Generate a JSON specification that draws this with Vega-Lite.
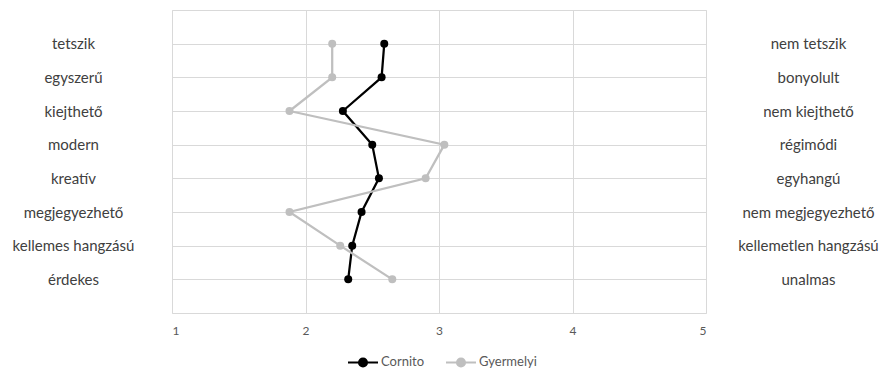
{
  "$schema": "https://vega.github.io/schema/vega-lite/v6.json",
  "width": 534,
  "height": 303,
  "autosize": {"type": "none"},
  "padding": {"left": 172, "top": 10, "right": 183, "bottom": 60},
  "background": "white",
  "data": {
    "values": [
      {"left": "tetszik", "right": "nem tetszik", "brand": "Cornito", "value": 2.59},
      {"left": "egyszerű", "right": "bonyolult", "brand": "Cornito", "value": 2.57},
      {"left": "kiejthető", "right": "nem kiejthető", "brand": "Cornito", "value": 2.28},
      {"left": "modern", "right": "régimódi", "brand": "Cornito", "value": 2.5},
      {"left": "kreatív", "right": "egyhangú", "brand": "Cornito", "value": 2.55},
      {"left": "megjegyezhető", "right": "nem megjegyezhető", "brand": "Cornito", "value": 2.42},
      {"left": "kellemes hangzású", "right": "kellemetlen hangzású", "brand": "Cornito", "value": 2.35},
      {"left": "érdekes", "right": "unalmas", "brand": "Cornito", "value": 2.32},
      {"left": "tetszik", "right": "nem tetszik", "brand": "Gyermelyi", "value": 2.2},
      {"left": "egyszerű", "right": "bonyolult", "brand": "Gyermelyi", "value": 2.2},
      {"left": "kiejthető", "right": "nem kiejthető", "brand": "Gyermelyi", "value": 1.88},
      {"left": "modern", "right": "régimódi", "brand": "Gyermelyi", "value": 3.04},
      {"left": "kreatív", "right": "egyhangú", "brand": "Gyermelyi", "value": 2.9},
      {"left": "megjegyezhető", "right": "nem megjegyezhető", "brand": "Gyermelyi", "value": 1.88},
      {"left": "kellemes hangzású", "right": "kellemetlen hangzású", "brand": "Gyermelyi", "value": 2.26},
      {"left": "érdekes", "right": "unalmas", "brand": "Gyermelyi", "value": 2.65}
    ]
  },
  "layer": [
    {
      "mark": {"type": "line", "strokeWidth": 2.25, "point": {"size": 64, "filled": true}},
      "encoding": {
        "x": {
          "field": "value", "type": "quantitative",
          "scale": {"domain": [1, 5], "nice": false, "zero": false},
          "axis": {"title": null, "values": [1, 2, 3, 4, 5], "format": "d", "ticks": false, "domain": false,
                   "grid": true, "gridColor": "#d9d9d9", "gridWidth": 1, "labelPadding": 12,
                   "labelFont": "Lato", "labelFontSize": 12, "labelColor": "#595959"}
        },
        "y": {
          "field": "left", "type": "ordinal", "sort": null,
          "scale": {"type": "point", "padding": 1},
          "axis": {"title": null, "orient": "left", "ticks": false, "domain": false, "grid": true,
                   "gridColor": "#d9d9d9", "gridWidth": 1, "labelAlign": "center", "labelPadding": 99,
                   "labelFont": "Lato", "labelFontSize": 15, "labelColor": "#404040"}
        },
        "order": {"value": null},
        "color": {
          "field": "brand", "type": "nominal",
          "scale": {"domain": ["Cornito", "Gyermelyi"], "range": ["#000000", "#bfbfbf"]},
          "legend": {
            "title": null, "orient": "none", "direction": "horizontal", "legendX": 175, "legendY": 336,
            "symbolType": "M-1,0L-0.27,0M0.27,0L1,0M-0.27,0A0.27,0.27,0,1,1,0.27,0A0.27,0.27,0,1,1,-0.27,0Z",
            "symbolSize": 900, "symbolStrokeWidth": 2, "labelFont": "Lato", "labelFontSize": 13,
            "labelColor": "#595959", "columnPadding": 17, "labelOffset": 2
          }
        }
      }
    },
    {
      "mark": {"type": "point", "opacity": 0},
      "encoding": {
        "x": {"field": "value", "type": "quantitative"},
        "y": {
          "field": "right", "type": "ordinal", "sort": null,
          "scale": {"type": "point", "padding": 1},
          "axis": {"title": null, "orient": "right", "ticks": false, "domain": false, "grid": false,
                   "labelAlign": "center", "labelPadding": 102,
                   "labelFont": "Lato", "labelFontSize": 15, "labelColor": "#404040"}
        }
      }
    }
  ],
  "resolve": {"scale": {"y": "independent"}},
  "config": {"view": {"stroke": "#d9d9d9", "strokeWidth": 1}}
}
